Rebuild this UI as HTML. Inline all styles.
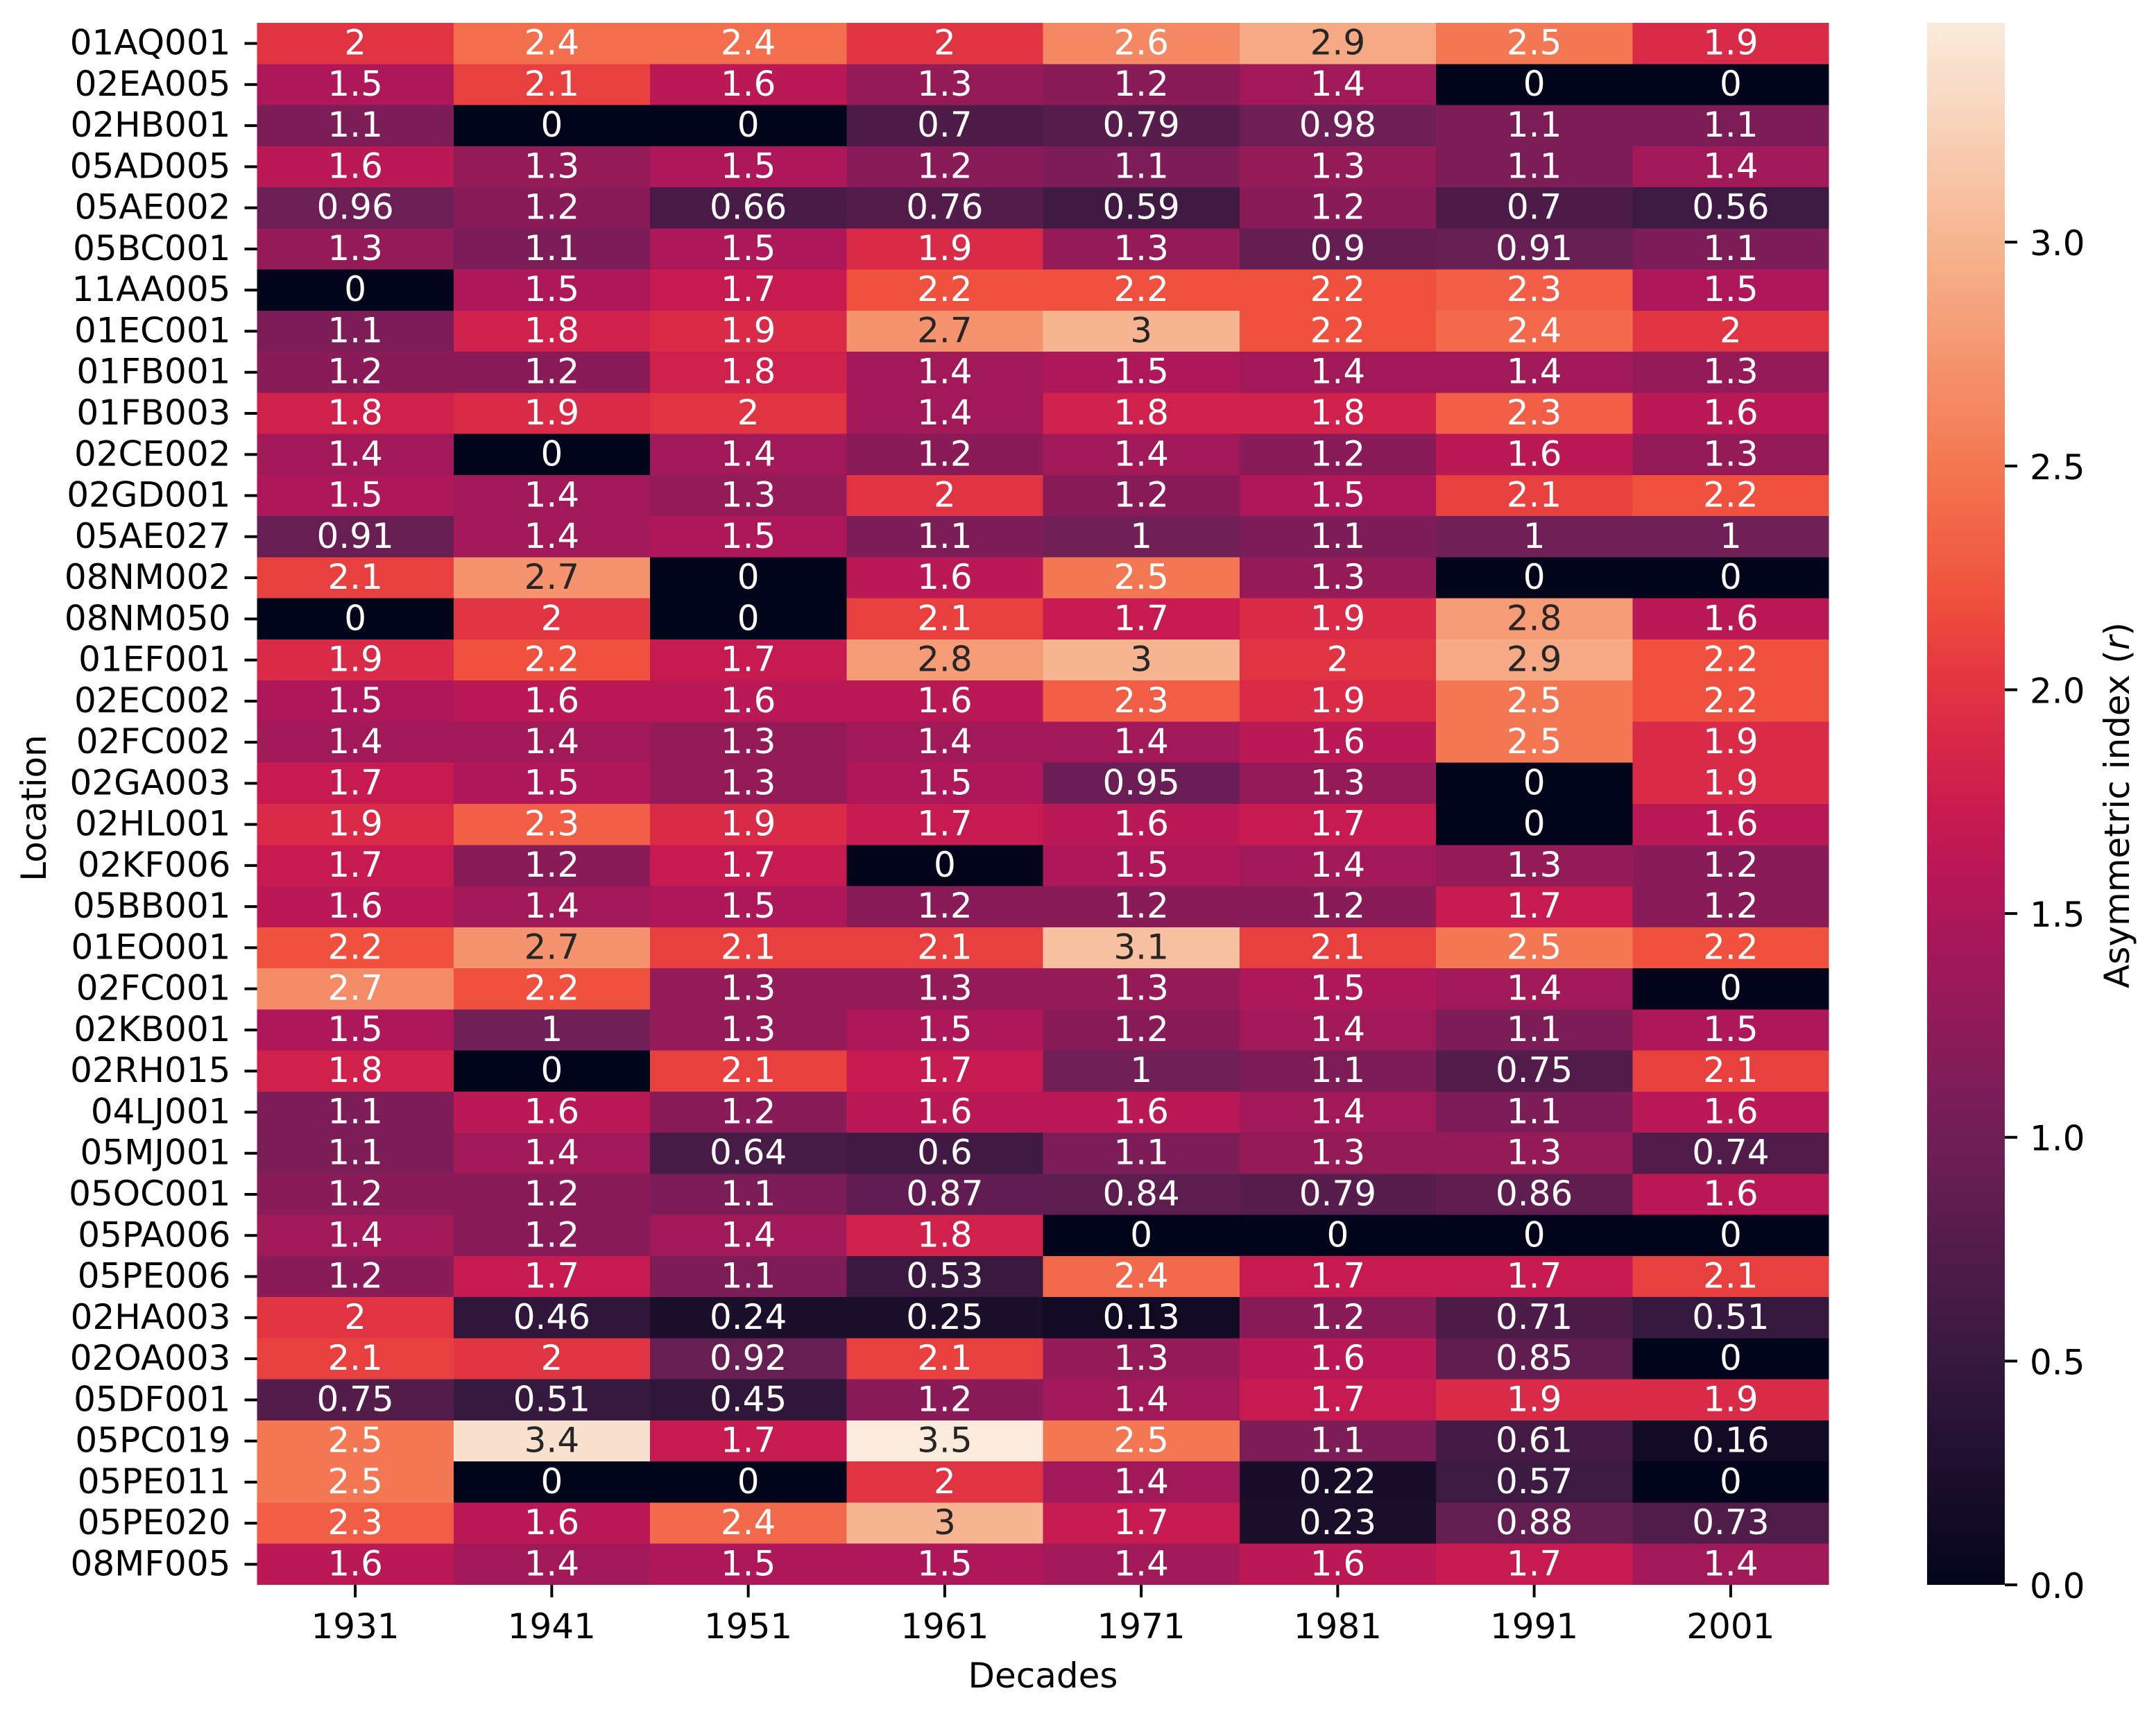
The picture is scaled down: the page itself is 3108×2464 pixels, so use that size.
<!DOCTYPE html>
<html lang="en">
<head>
<meta charset="utf-8">
<title>Asymmetric index heatmap</title>
<style>
html,body{margin:0;padding:0;background:#fff}
svg{display:block}
text{font-family:"DejaVu Sans","Liberation Sans",sans-serif;font-size:50px;fill:#000}
</style>
</head>
<body>
<svg id="chart" width="3108" height="2464" viewBox="0 0 3108 2464" xmlns="http://www.w3.org/2000/svg">
<rect width="3108" height="2464" fill="#fff"/>
<defs><linearGradient id="cbar-gradient" x1="0" y1="1" x2="0" y2="0"></linearGradient></defs>
<g id="cells"></g>
<g id="annotations"></g>
<g id="y-axis"></g>
<g id="x-axis"></g>
<text x="1503.5" y="2433" text-anchor="middle">Decades</text>
<text transform="translate(66,1165) rotate(-90)" text-anchor="middle">Location</text>
<rect x="2778" y="33" width="112" height="2252" fill="url(#cbar-gradient)"/>
<g id="colorbar-axis"></g>
<text transform="translate(3069,1161) rotate(-90)" text-anchor="middle">Asymmetric index (<tspan font-style="italic">r</tspan>)</text>
</svg>
<script>
const decades = [1931, 1941, 1951, 1961, 1971, 1981, 1991, 2001];
const locations = ["01AQ001","02EA005","02HB001","05AD005","05AE002","05BC001","11AA005","01EC001","01FB001","01FB003","02CE002","02GD001","05AE027","08NM002","08NM050","01EF001","02EC002","02FC002","02GA003","02HL001","02KF006","05BB001","01EO001","02FC001","02KB001","02RH015","04LJ001","05MJ001","05OC001","05PA006","05PE006","02HA003","02OA003","05DF001","05PC019","05PE011","05PE020","08MF005"];
const values = [
[2,2.43,2.43,2,2.64,2.9,2.5,1.9],
[1.5,2.1,1.6,1.3,1.2,1.4,0,0],
[1.1,0,0,0.7,0.79,0.98,1.1,1.1],
[1.6,1.3,1.5,1.2,1.1,1.3,1.1,1.4],
[0.96,1.2,0.66,0.76,0.59,1.2,0.7,0.56],
[1.3,1.1,1.5,1.9,1.3,0.9,0.91,1.1],
[0,1.5,1.7,2.2,2.2,2.2,2.3,1.5],
[1.1,1.8,1.9,2.73,3,2.2,2.4,2],
[1.2,1.2,1.8,1.4,1.5,1.4,1.4,1.3],
[1.8,1.9,2,1.4,1.8,1.8,2.3,1.6],
[1.4,0,1.4,1.2,1.4,1.2,1.6,1.3],
[1.5,1.4,1.3,2,1.2,1.5,2.1,2.2],
[0.91,1.4,1.5,1.1,1,1.1,1,1],
[2.1,2.73,0,1.6,2.5,1.3,0,0],
[0,2,0,2.1,1.7,1.9,2.8,1.6],
[1.9,2.2,1.7,2.8,3,2,2.9,2.2],
[1.5,1.6,1.6,1.6,2.3,1.9,2.5,2.2],
[1.4,1.4,1.3,1.4,1.4,1.6,2.5,1.9],
[1.7,1.5,1.3,1.5,0.95,1.3,0,1.9],
[1.9,2.3,1.9,1.7,1.6,1.7,0,1.6],
[1.7,1.2,1.7,0,1.5,1.4,1.3,1.2],
[1.6,1.4,1.5,1.2,1.2,1.2,1.7,1.2],
[2.2,2.73,2.1,2.1,3.1,2.1,2.5,2.2],
[2.67,2.2,1.3,1.3,1.3,1.5,1.4,0],
[1.5,1,1.3,1.5,1.2,1.4,1.1,1.5],
[1.8,0,2.1,1.7,1,1.1,0.75,2.1],
[1.1,1.6,1.2,1.6,1.6,1.4,1.1,1.6],
[1.1,1.4,0.64,0.6,1.1,1.3,1.3,0.74],
[1.2,1.2,1.1,0.87,0.84,0.79,0.86,1.6],
[1.4,1.2,1.4,1.8,0,0,0,0],
[1.2,1.7,1.1,0.53,2.4,1.7,1.7,2.1],
[2,0.46,0.24,0.25,0.13,1.2,0.71,0.51],
[2.1,2,0.92,2.1,1.3,1.6,0.85,0],
[0.75,0.51,0.45,1.2,1.4,1.7,1.9,1.9],
[2.5,3.4,1.7,3.5,2.5,1.1,0.61,0.16],
[2.5,0,0,2,1.4,0.22,0.57,0],
[2.3,1.6,2.4,3,1.7,0.23,0.88,0.73],
[1.6,1.4,1.5,1.5,1.4,1.6,1.7,1.4]
];
const colorbarTicks = [0, 0.5, 1, 1.5, 2, 2.5, 3];
const colorbarTickLabels = ["0.0", "0.5", "1.0", "1.5", "2.0", "2.5", "3.0"];
const valueMax = 3.49;

const NS = "http://www.w3.org/2000/svg";
const plot = { left: 370.5, right: 2636.5, top: 33, bottom: 2285 };
const cbar = { left: 2778, right: 2890, top: 33, bottom: 2285 };
const rocketPos = [0, 1/7, 2/7, 3/7, 0.5, 4/7, 0.6, 0.63, 5/7, 6/7, 1];
const rocketRgb = [[3,5,26],[53,25,62],[112,31,87],[173,23,89],[203,27,79],[225,51,66],[232,63,63],[240,80,62],[243,118,81],[246,180,143],[250,235,221]];

function rocket(t) {
  t = Math.max(0, Math.min(1, t));
  let i = 0;
  while (i < rocketPos.length - 2 && t > rocketPos[i + 1]) i++;
  const f = (t - rocketPos[i]) / (rocketPos[i + 1] - rocketPos[i]);
  return rocketRgb[i].map((c, k) => c + (rocketRgb[i + 1][k] - c) * f);
}
function css(rgb) { return "rgb(" + rgb.map(Math.round).join(",") + ")"; }
function luminance(rgb) {
  const lin = rgb.map(c => { const s = c / 255; return s <= 0.03928 ? s / 12.92 : Math.pow((s + 0.055) / 1.055, 2.4); });
  return 0.2126 * lin[0] + 0.7152 * lin[1] + 0.0722 * lin[2];
}
const formatValue = v => String(Number(v.toPrecision(2)));
const xBand = i => plot.left + i * (plot.right - plot.left) / decades.length;
const yBand = i => plot.top + i * (plot.bottom - plot.top) / locations.length;
const cbarY = v => cbar.bottom - (v / valueMax) * (cbar.bottom - cbar.top);
const node = tag => document.createElementNS(NS, tag);

const gCells = document.getElementById("cells");
const gAnn = document.getElementById("annotations");
const gY = document.getElementById("y-axis");
const gX = document.getElementById("x-axis");
const gC = document.getElementById("colorbar-axis");

values.forEach((row, r) => {
  row.forEach((v, c) => {
    const rgb = rocket(v / valueMax);
    const cell = node("rect");
    
    
    cell.setAttribute("x", xBand(c));
    cell.setAttribute("y", yBand(r));
    cell.setAttribute("width", xBand(c + 1) - xBand(c));
    cell.setAttribute("height", yBand(r + 1) - yBand(r));
    cell.setAttribute("fill", css(rgb));
    cell.setAttribute("shape-rendering", "crispEdges");
    gCells.appendChild(cell);

    const label = node("text");
    
    
    label.setAttribute("x", (xBand(c) + xBand(c + 1)) / 2);
    label.setAttribute("y", (yBand(r) + yBand(r + 1)) / 2 + 16);
    label.setAttribute("text-anchor", "middle");
    label.style.fill = luminance(rgb) < 0.408 ? "#ffffff" : "#262626";
    label.textContent = formatValue(v);
    gAnn.appendChild(label);
  });
});

locations.forEach((name, r) => {
  const y = (yBand(r) + yBand(r + 1)) / 2;
  const tick = node("line");
  
  
  tick.setAttribute("x1", plot.left - 18);
  tick.setAttribute("x2", plot.left);
  tick.setAttribute("y1", y);
  tick.setAttribute("y2", y);
  tick.setAttribute("stroke", "#000");
  tick.setAttribute("stroke-width", 4);
  gY.appendChild(tick);
  const label = node("text");
  
  
  label.setAttribute("x", plot.left - 38);
  label.setAttribute("y", y + 16);
  label.setAttribute("text-anchor", "end");
  label.textContent = name;
  gY.appendChild(label);
});

decades.forEach((d, c) => {
  const x = (xBand(c) + xBand(c + 1)) / 2;
  const tick = node("line");
  
  
  tick.setAttribute("x1", x);
  tick.setAttribute("x2", x);
  tick.setAttribute("y1", plot.bottom);
  tick.setAttribute("y2", plot.bottom + 18);
  tick.setAttribute("stroke", "#000");
  tick.setAttribute("stroke-width", 4);
  gX.appendChild(tick);
  const label = node("text");
  
  
  label.setAttribute("x", x);
  label.setAttribute("y", 2362);
  label.setAttribute("text-anchor", "middle");
  label.textContent = String(d);
  gX.appendChild(label);
});

const gradient = document.getElementById("cbar-gradient");
for (let i = 0; i <= 64; i++) {
  const stop = node("stop");
  stop.setAttribute("offset", i / 64);
  stop.setAttribute("stop-color", css(rocket(i / 64)));
  gradient.appendChild(stop);
}

colorbarTicks.forEach((v, i) => {
  const y = cbarY(v);
  const tick = node("line");
  
  
  tick.setAttribute("x1", cbar.right);
  tick.setAttribute("x2", cbar.right + 18);
  tick.setAttribute("y1", y);
  tick.setAttribute("y2", y);
  tick.setAttribute("stroke", "#000");
  tick.setAttribute("stroke-width", 4);
  gC.appendChild(tick);
  const label = node("text");
  
  
  label.setAttribute("x", cbar.right + 36);
  label.setAttribute("y", y + 19);
  label.textContent = colorbarTickLabels[i];
  gC.appendChild(label);
});
</script>
</body>
</html>
